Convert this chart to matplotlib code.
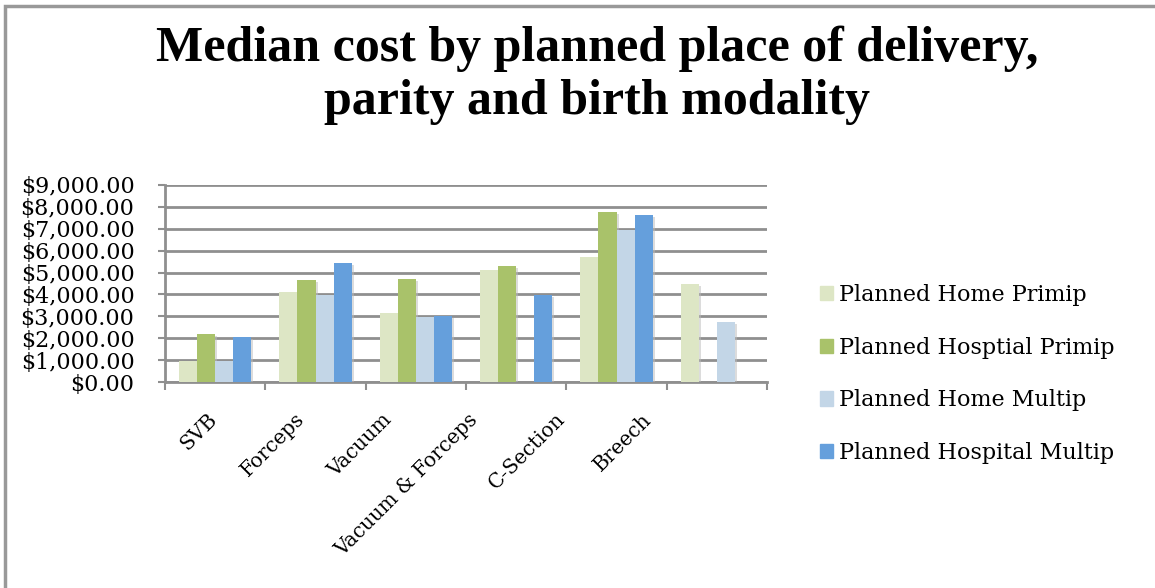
import matplotlib.pyplot as plt
import matplotlib.patheffects as pe
from matplotlib.patches import Patch, Rectangle
from matplotlib.ticker import FuncFormatter
import numpy as np

categories = ["SVB", "Forceps", "Vacuum", "Vacuum & Forceps", "C-Section", "Breech"]
series_names = ["Planned Home Primip", "Planned Hosptial Primip",
                "Planned Home Multip", "Planned Hospital Multip"]
home_primip = [960, 4130, 3130, 5130, 5700, 4470]
hospital_primip = [2200, 4650, 4720, 5300, 7760, 0]
home_multip = [980, 3990, 2950, 0, 6950, 2760]
hospital_multip = [2070, 5420, 3010, 3970, 7640, 0]
colors = ["#dde6c5", "#a9c26a", "#c3d6e7", "#659fdc"]

plt.rcParams['font.family'] = ['DejaVu Serif']

fig = plt.figure(figsize=(11.55, 5.88), dpi=100)
ax = fig.add_axes([165 / 1155, 1 - 382 / 588, 602 / 1155, 197 / 588])

x = np.arange(len(categories))
width = 0.18
shadow = [pe.SimplePatchShadow(offset=(1.5, -1.5), shadow_rgbFace="#bbbbbb", alpha=0.5), pe.Normal()]
for i, vals in enumerate([home_primip, hospital_primip, home_multip, hospital_multip]):
    ax.bar(x + (i - 1.5) * width, vals, width, color=colors[i], zorder=3,
           path_effects=shadow)

ax.set_xlim(-0.5, len(categories) - 0.5)
ax.set_ylim(0, 9000)
ax.set_yticks(np.arange(0, 9001, 1000))
ax.yaxis.set_major_formatter(FuncFormatter(lambda v, p: "${:,.2f}".format(v)))
ax.grid(axis="y", color="#8f8f8f", linewidth=2, zorder=0)
ax.set_xticks(np.arange(len(categories) + 1) - 0.5)
ax.set_xticklabels([])
ax.tick_params(axis="x", length=6, width=1.5, color="#8f8f8f")
ax.tick_params(axis="y", length=5, width=1.5, color="#8f8f8f", labelsize=16, pad=17)
for s in ["top", "right"]:
    ax.spines[s].set_visible(False)
for s in ["left", "bottom"]:
    ax.spines[s].set_color("#8f8f8f")
    ax.spines[s].set_linewidth(2)

# rotated category names, packed a little tighter than the groups
label_x = x * 0.866 - 0.02
for lx, name in zip(label_x, categories):
    ax.annotate(name, (lx, 0), xycoords=("data", "axes fraction"),
                xytext=(-4, -20), textcoords="offset points",
                rotation=45, ha="right", va="top", rotation_mode="anchor",
                fontsize=14.5)

fig.text(0.517, 0.957, "Median cost by planned place of delivery,\nparity and birth modality",
         ha="center", va="top", fontsize=36, fontweight="bold",
         family="Liberation Serif", linespacing=1.2)

handles = [Patch(color=c) for c in colors]
fig.legend(handles, series_names, loc="upper left", bbox_to_anchor=(800 / 1155, 1 - 264 / 588),
           frameon=False, prop={"family": "DejaVu Serif", "size": 16},
           handlelength=0.6, handleheight=0.6, handletextpad=0.25, labelspacing=1.38)

# outer chart frame
fig.patches.append(Rectangle((5 / 1155, -0.1), 1.2, 1 - 6 / 588 + 0.1, transform=fig.transFigure,
                             fill=False, edgecolor="#999999", linewidth=2.5))

fig.savefig("out.png", dpi=100)
